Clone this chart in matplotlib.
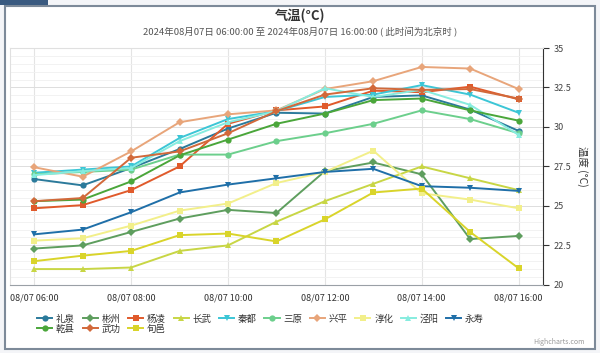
import matplotlib
matplotlib.use('Agg')
import matplotlib.pyplot as plt
from matplotlib.patches import Rectangle
from matplotlib.lines import Line2D

plt.rcParams['font.family'] = ['Noto Sans CJK SC', 'DejaVu Sans']

# data
hours = [6, 7, 8, 9, 10, 11, 12, 13, 14, 15, 16]
tick_hours = [6, 8, 10, 12, 14, 16]
tick_labels = ['08/07 06:00', '08/07 08:00', '08/07 10:00',
               '08/07 12:00', '08/07 14:00', '08/07 16:00']
names = ['礼泉', '彬州', '杨凌', '长武', '秦都', '三原', '兴平',
         '淳化', '泾阳', '永寿', '乾县', '武功', '旬邑']

liquan   = [26.7, 26.3, 27.4, 28.6, 29.9, 30.9, 30.85, 31.9, 32.0, 31.1, 29.75]
binzhou  = [22.3, 22.5, 23.35, 24.2, 24.75, 24.55, 27.2, 27.75, 27.0, 22.9, 23.1]
yangling = [24.85, 25.05, 26.0, 27.5, 30.2, 31.05, 31.3, 32.3, 32.2, 32.55, 31.75]
changwu  = [21.0, 21.0, 21.1, 22.15, 22.5, 24.0, 25.3, 26.4, 27.5, 26.75, 26.0]
qindu    = [27.1, 27.3, 27.5, 29.3, 30.5, 31.0, 31.9, 32.05, 32.65, 32.05, 30.9]
sanyuan  = [27.0, 27.15, 27.3, 28.25, 28.25, 29.1, 29.6, 30.2, 31.05, 30.5, 29.6]
xingping = [27.45, 26.85, 28.45, 30.3, 30.8, 31.05, 32.4, 32.9, 33.8, 33.7, 32.4]
chunhua  = [22.8, 22.95, 23.75, 24.7, 25.15, 26.45, 27.15, 28.5, 25.8, 25.4, 24.85]
jingyang = [26.95, 27.2, 27.4, 29.1, 30.3, 31.0, 32.45, 31.9, 32.35, 31.4, 29.5]
yongshou = [23.2, 23.5, 24.6, 25.85, 26.35, 26.75, 27.15, 27.35, 26.25, 26.15, 25.95]
qianxian = [25.3, 25.4, 26.55, 28.2, 29.2, 30.2, 30.85, 31.7, 31.8, 31.05, 30.4]
wugong   = [25.3, 25.5, 28.05, 28.45, 29.6, 31.0, 32.05, 32.45, 32.35, 32.4, 31.8]
xunyi    = [21.5, 21.85, 22.15, 23.15, 23.25, 22.75, 24.15, 25.85, 26.1, 23.35, 21.05]

series = [liquan, binzhou, yangling, changwu, qindu, sanyuan, xingping,
          chunhua, jingyang, yongshou, qianxian, wugong, xunyi]
colors = ['#2b7a9b', '#5e9e5e', '#e05a2b', '#c8d645', '#3cc6d6', '#6ccf8c',
          '#e8a57a', '#f2ef8a', '#86ecdf', '#1f6fa8', '#4aa63a', '#d2693a',
          '#d9d42a']
markers = ['o', 'D', 's', '^', 'v']

fig = plt.figure(figsize=(6, 3.53), dpi=100)
fig.patch.set_facecolor('#f4f5f8')
# frame around the chart
fig.patches.append(Rectangle((0.008, 0.012), 0.984, 0.97, transform=fig.transFigure,
                             facecolor='white', edgecolor='#7d8a99', lw=1.5, zorder=-10))
fig.patches.append(Rectangle((0.0, 0.985), 0.08, 0.015, transform=fig.transFigure,
                             facecolor='#3a5a80', edgecolor='none', zorder=-10))

ax = fig.add_axes([0.0167, 0.193, 0.888, 0.671])
ax.set_facecolor('white')

for i, (name, vals) in enumerate(zip(names, series)):
    m = markers[i % 5]
    ms = 4.0 if m == 'D' else 4.5
    ax.plot(hours, vals, color=colors[i], lw=1.4, marker=m, ms=ms,
            markeredgewidth=0, label=name, zorder=3)

ax.set_xlim(5.5, 16.5)
ax.set_ylim(20, 35)
ax.set_xticks(tick_hours)
ax.set_xticklabels(tick_labels, fontsize=6.5, color='#333333')
ax.yaxis.tick_right()
ax.yaxis.set_label_position('right')
ax.set_yticks([20, 22.5, 25, 27.5, 30, 32.5, 35])
ax.set_yticklabels(['20', '22.5', '25', '27.5', '30', '32.5', '35'],
                   fontsize=6.5, color='#444444')
ax.set_yticks([20 + 0.5 * k for k in range(31)], minor=True)
ax.tick_params(axis='y', which='major', length=4, color='#333333', width=0.8)
ax.tick_params(axis='y', which='minor', length=0)
ax.tick_params(axis='x', length=0, pad=6)
ax.grid(axis='y', which='major', color='#dddddd', lw=0.7)
ax.grid(axis='y', which='minor', color='#f0f0f0', lw=0.6)
ax.grid(axis='x', which='major', color='#e4e4e4', lw=0.8)
ax.set_axisbelow(True)
for s in ['top', 'left']:
    ax.spines[s].set_color('#e0e0e0')
ax.spines['right'].set_color('#333333')
ax.spines['bottom'].set_color('#9aa0a6')
ax.set_ylabel('温度 (°C)', rotation=270, labelpad=12, fontsize=7.5, color='#333333')

fig.text(0.5, 0.955, '气温(°C)', ha='center', va='center', fontsize=9.5,
         fontweight='bold', color='#333333')
fig.text(0.5, 0.91, '2024年08月07日 06:00:00 至 2024年08月07日 16:00:00 ( 此时间为北京时 )',
         ha='center', va='center', fontsize=6.8, color='#555555')

# legend: 10 items in first row, 3 in second
handles = [Line2D([], [], color=colors[i], lw=1.4, marker=markers[i % 5],
                  ms=4.0 if markers[i % 5] == 'D' else 4.5,
                  markeredgewidth=0) for i in range(len(names))]
for row, (a, b, yy) in enumerate([(0, 10, 0.0963), (10, 13, 0.068)]):
    leg = fig.legend(handles[a:b], names[a:b], loc='center left',
                     bbox_to_anchor=(0.062, yy), ncol=b - a, frameon=False,
                     fontsize=6.8, handlelength=1.6, handletextpad=0.4,
                     columnspacing=0.8, borderpad=0, borderaxespad=0)
    for t in leg.get_texts():
        t.set_color('#333333')

fig.text(0.975, 0.03, 'Highcharts.com', ha='right', va='center', fontsize=5,
         color='#999999')

fig.savefig('out.png', dpi=100, facecolor=fig.get_facecolor())
